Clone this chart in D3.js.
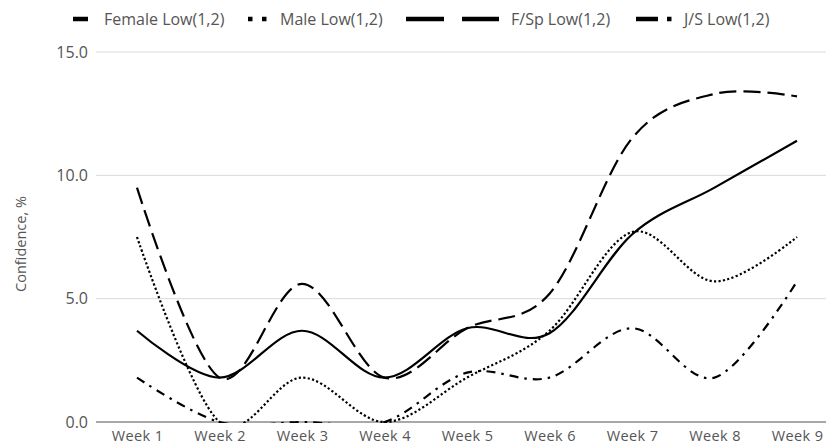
<!DOCTYPE html>
<html><head><meta charset="utf-8">
<script src="https://cdn.jsdelivr.net/npm/d3@7"></script>
<style>
html,body{margin:0;padding:0;background:#fff;}
text{font-family:"Open Sans",sans-serif;fill:#555;}
</style></head>
<body><svg id="chart" width="826" height="445"></svg>
<script>
const weeks = ["Week 1","Week 2","Week 3","Week 4","Week 5","Week 6","Week 7","Week 8","Week 9"];
const seriesNames = ["Female Low(1,2)","Male Low(1,2)","F/Sp Low(1,2)","J/S Low(1,2)"];
const female = [3.7,1.8,3.7,1.8,3.8,3.6,7.6,9.5,11.4];
const male   = [7.5,0,1.8,0,1.8,3.7,7.7,5.7,7.5];
const fsp    = [9.5,1.8,5.6,1.8,3.8,5.2,11.5,13.3,13.2];
const js     = [1.8,0,0,0,2.0,1.8,3.8,1.8,5.7];
const yTicks = [0,5,10,15];
const yTitle = "Confidence, %";

(function(){
const series = [female, male, fsp, js];
const dashes = [null, "2.2,2.3", "17,7", "9,6,2.5,6"];
const legendDash = [null, "4.5,9.5", "38,18", "22,9,4.5,20"];
const legendSampleW = [15, 19, 93, 36];
const legendX = [73, 248, 406, 636];
const legendTextX = [104, 280, 511, 684];

const svg = d3.select("#chart");
const pL = 96, pR = 838, pT = 52, pB = 422;
const x = d3.scalePoint().domain(weeks).range([137, 797]);
const y = d3.scaleLinear().domain([0,15]).range([pB, pT]);

svg.append("g").selectAll("line").data(yTicks.filter(d=>d>0)).join("line")
  .attr("x1", pL).attr("x2", pR)
  .attr("y1", d=>y(d)).attr("y2", d=>y(d))
  .attr("stroke", "#d9d9d9").attr("stroke-width", 1);

svg.append("g").selectAll("text").data(yTicks).join("text")
  .attr("x", 88).attr("y", d=>y(d)).attr("dy","0.35em")
  .attr("text-anchor","end").style("font-size","16px")
  .text(d=>d3.format(".1f")(d));

const xAxis = d3.axisBottom(x).tickSize(0).tickPadding(0);
const gx = svg.append("g").attr("transform", `translate(0,${pB})`).call(xAxis);
gx.select(".domain").remove();
gx.selectAll("text").style("font-size","14.5px").style("font-family","'Open Sans',sans-serif")
  .style("letter-spacing","0.4px")
  .attr("fill","#555").attr("y", 18.5).attr("dy", 0);
svg.append("line").attr("x1", pL).attr("x2", pR).attr("y1", pB).attr("y2", pB)
  .attr("stroke", "#8c8c8c").attr("stroke-width", 1.5);

svg.append("text").attr("transform", `translate(21,244) rotate(-90)`)
  .attr("text-anchor","middle").attr("dy","0.35em").style("font-size","14.5px").text(yTitle);

svg.append("clipPath").attr("id","clip").append("rect")
  .attr("x", pL).attr("y", pT).attr("width", pR-pL).attr("height", pB-pT+1);

const line = d3.line().x((d,i)=>x(weeks[i])).y(d=>y(d)).curve(d3.curveCatmullRom.alpha(0));
svg.append("g").attr("clip-path","url(#clip)").selectAll("path").data(series).join("path")
  .attr("d", d=>line(d)).attr("fill","none").attr("stroke","#000")
  .attr("stroke-width", 2.2)
  .attr("stroke-dasharray", (d,i)=>dashes[i]);

const lg = svg.append("g");
seriesNames.forEach((n,i)=>{
  lg.append("line").attr("x1", legendX[i]).attr("x2", legendX[i]+legendSampleW[i])
    .attr("y1", 19).attr("y2", 19).attr("stroke","#000").attr("stroke-width",4.5)
    .attr("stroke-dasharray", legendDash[i]);
  lg.append("text").attr("x", legendTextX[i]).attr("y", 19).attr("dy","0.35em")
    .style("font-size","16px").text(n);
});
})();
</script></body></html>
